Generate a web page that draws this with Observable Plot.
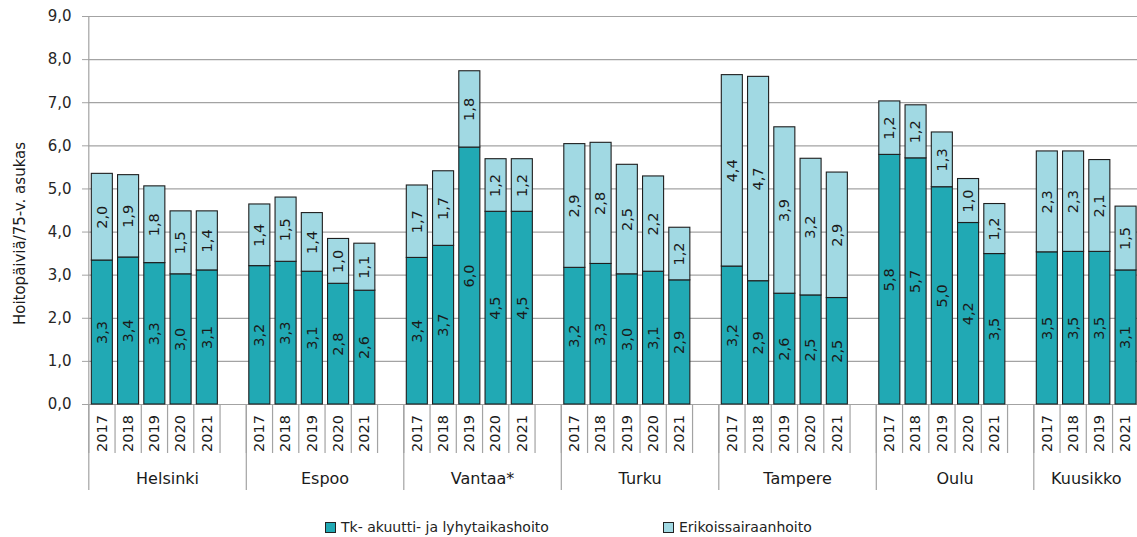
<!DOCTYPE html>
<html><head><meta charset="utf-8">
<script src="https://cdn.jsdelivr.net/npm/d3@7"></script>
<script src="https://cdn.jsdelivr.net/npm/@observablehq/plot@0.6"></script>
<style>
html,body{margin:0;padding:0;background:#fff;overflow:hidden;width:1137px;height:537px}
#wrap{position:relative;width:1137px;height:537px;font-family:"DejaVu Sans",sans-serif;color:#222}
.leg{position:absolute;top:518px;font-size:14px;line-height:18px;white-space:nowrap;display:flex;align-items:center}
.sw{display:inline-block;width:9px;height:9px;border:1px solid #222;margin-right:5px}
</style></head><body><div id="wrap"></div>
<script>
const cities = ["Helsinki","Espoo","Vantaa*","Turku","Tampere","Oulu","Kuusikko"];
const years = ["2017","2018","2019","2020","2021"];
const yearsKuusikko = ["2017","2018","2019","2021"];
const series = ["Tk- akuutti- ja lyhytaikashoito","Erikoissairaanhoito"];

const tkHelsinki = [3.34,3.41,3.28,3.02,3.11];
const erHelsinki = [2.01,1.91,1.78,1.46,1.37];
const tkEspoo = [3.21,3.31,3.08,2.80,2.64];
const erEspoo = [1.43,1.49,1.36,1.04,1.09];
const tkVantaa = [3.40,3.68,5.96,4.47,4.47];
const erVantaa = [1.68,1.73,1.77,1.22,1.22];
const tkTurku = [3.17,3.26,3.02,3.08,2.88];
const erTurku = [2.87,2.81,2.54,2.21,1.22];
const tkTampere = [3.20,2.86,2.57,2.53,2.47];
const erTampere = [4.44,4.74,3.86,3.17,2.91];
const tkOulu = [5.79,5.71,5.04,4.21,3.49];
const erOulu = [1.24,1.23,1.27,1.02,1.16];
const tkKuusikko = [3.53,3.54,3.54,3.11];
const erKuusikko = [2.34,2.33,2.13,1.48];

const tkAll = [tkHelsinki,tkEspoo,tkVantaa,tkTurku,tkTampere,tkOulu,tkKuusikko];
const erAll = [erHelsinki,erEspoo,erVantaa,erTurku,erTampere,erOulu,erKuusikko];
const yearsAll = [years,years,years,years,years,years,yearsKuusikko];

const dark = "#21a9b4", light = "#a1d9e3";
const fmt = v => v.toFixed(1).replace(".", ",");
const slotsPerGroup = 6;

// build segments
const segs = [], slots = [], groups = [];
cities.forEach((c, i) => {
  const yrs = yearsAll[i];
  yrs.forEach((yr, j) => {
    const s = i * slotsPerGroup + j;
    const tk = tkAll[i][j], er = erAll[i][j];
    slots.push({s, yr});
    segs.push({s, series: series[0], y1: 0, y2: tk, v: tk});
    segs.push({s, series: series[1], y1: tk, y2: tk + er, v: er});
  });
  const n = i === cities.length - 1 ? yrs.length : slotsPerGroup;
  groups.push({c, start: i * slotsPerGroup, mid: i * slotsPerGroup + n / 2});
});
const nSlots = (cities.length - 1) * slotsPerGroup + yearsKuusikko.length;
const boundaries = d3.range(0, nSlots + 1);
const groupBounds = groups.map(g => g.start);

const pxPerUnit = (404 - 16) / 9;
const shortDepth = -49 / pxPerUnit, longDepth = -86 / pxPerUnit;
const gridCol = "#a3a3a3";

const plot = Plot.plot({
  width: 1137, height: 500,
  marginTop: 16, marginBottom: 96, marginLeft: 88, marginRight: 0,
  style: {fontFamily: "DejaVu Sans, sans-serif", fontSize: "15px", color: "#262626", background: "#fff"},
  x: {domain: [0, nSlots], range: [88.3, 88.3 + nSlots * 26.25], axis: null},
  y: {domain: [0, 9], ticks: d3.range(0, 10), tickFormat: fmt, tickSize: 6, tickPadding: 11, label: null},
  color: {domain: series, range: [dark, light]},
  marks: [
    Plot.ruleY(d3.range(1, 10), {stroke: gridCol, strokeWidth: 1.2}),
    Plot.ruleX(boundaries, {x: d => d, y1: 0, y2: shortDepth, stroke: gridCol, strokeWidth: 1.2}),
    Plot.ruleX(groupBounds, {x: d => d, y1: 0, y2: longDepth, stroke: gridCol, strokeWidth: 1.2}),
    Plot.ruleX([0], {x: d => d, y1: 0, y2: 9, stroke: gridCol, strokeWidth: 1.2}),
    Plot.ruleY([0], {stroke: gridCol, strokeWidth: 1.2}),
    Plot.rect(segs, {x1: d => d.s, x2: d => d.s + 1, y1: "y1", y2: "y2", fill: "series",
      stroke: "#1e1e1e", strokeWidth: 1.1, insetLeft: 3, insetRight: 2.2}),
    Plot.text(segs, {x: d => d.s + 0.5, y: d => (d.y1 + d.y2) / 2, text: d => fmt(d.v),
      rotate: -90, fontSize: 14.5, fill: "#1a1a1a"}),
    Plot.text(slots, {x: d => d.s + 0.5, y: 0, dy: 29, text: "yr", rotate: -90, fontSize: 14.5, fill: "#1a1a1a"}),
    Plot.text(groups, {x: "mid", y: 0, dy: 74, text: "c", fontSize: 16, fill: "#1a1a1a"}),
    Plot.text(["Hoitopäiviä/75-v. asukas"], {frameAnchor: "left", textAnchor: "middle", dx: -68, dy: 23, rotate: -90,
      text: d => d, fontSize: 15, fill: "#1a1a1a"})
  ]
});
// grey tick marks on the y axis, as in the reference
plot.querySelectorAll('[aria-label^="y-axis"] path, [aria-label^="y-axis"] line').forEach(el => {
  el.setAttribute("stroke", gridCol);
});
const wrap = document.getElementById("wrap");
wrap.appendChild(plot);
[[series[0], dark, 325], [series[1], light, 663]].forEach(([t, c, left]) => {
  const d = document.createElement("div");
  d.className = "leg"; d.style.left = left + "px";
  const sw = document.createElement("span"); sw.className = "sw"; sw.style.background = c;
  d.appendChild(sw); d.appendChild(document.createTextNode(t));
  wrap.appendChild(d);
});
</script></body></html>
